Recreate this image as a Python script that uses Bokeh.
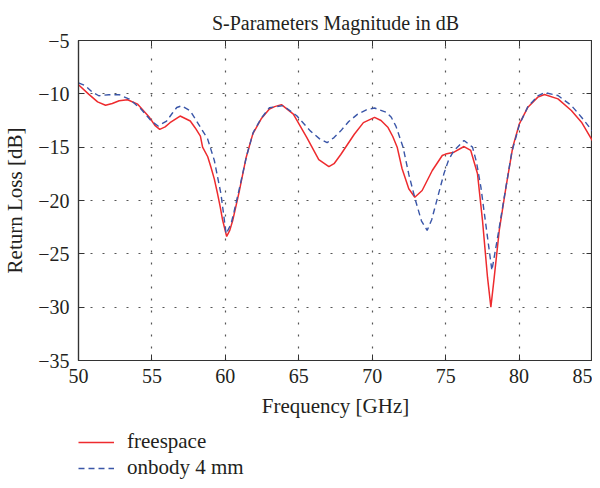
from bokeh.plotting import figure
from bokeh.layouts import column
from bokeh.models import Legend, LegendItem, LinearAxis, FixedTicker, Range1d
from bokeh.embed import file_html
from bokeh.resources import INLINE

# ---- data ----
freq_free = [50.0, 50.69, 51.3, 51.84, 52.3, 52.77, 53.34, 54.03, 54.84, 55.2, 55.53, 55.9, 56.23, 56.92,
             57.61, 57.95, 58.3, 58.45, 58.8, 59.02, 59.25, 59.47, 59.65, 59.82, 60.09, 60.3, 60.5, 60.96,
             61.42, 61.87, 62.44, 63.0, 63.36, 63.82, 64.63, 65.55, 66.36, 67.05, 67.4, 67.86, 68.78, 69.4,
             70.16, 70.6, 71.08, 71.4, 71.7, 72.03, 72.49, 72.9, 73.4, 74.09, 74.77, 75.0, 75.57, 76.25,
             76.71, 77.17, 77.51, 77.85, 78.08, 78.31, 78.65, 79.11, 79.57, 80.02, 80.6, 81.28, 81.73, 82.65,
             83.56, 84.25, 85.0]
s11_free = [-9.15, -10.03, -10.75, -11.07, -10.9, -10.65, -10.56, -10.97, -12.23, -12.95, -13.33, -13.1, -12.71, -12.08,
            -12.55, -13.2, -13.97, -15.0, -15.9, -16.88, -18.0, -19.37, -20.6, -21.88, -23.37, -22.8, -21.88, -19.06,
            -15.94, -13.75, -12.34, -11.42, -11.2, -11.01, -11.9, -14.1, -16.16, -16.82, -16.55, -15.69, -13.79, -12.7,
            -12.21, -12.5, -13.16, -14.0, -15.0, -17.0, -18.9, -19.69, -19.06, -17.19, -15.78, -15.65, -15.47, -14.94,
            -15.31, -17.5, -21.88, -27.19, -30.0, -27.19, -22.81, -18.75, -15.0, -12.81, -11.25, -10.31, -10.06, -10.47,
            -11.56, -12.66, -14.4]

freq_body = [50.0, 50.46, 50.9, 51.38, 52.07, 52.77, 53.46, 54.27, 54.96, 55.42, 56.0, 56.4, 56.69, 57.03,
             57.61, 58.18, 58.79, 59.25, 59.5, 59.7, 59.9, 60.05, 60.39, 60.6, 61.0, 61.45, 61.9, 62.44,
             63.0, 63.94, 64.86, 65.78, 66.4, 66.93, 67.4, 67.86, 68.4, 69.01, 69.6, 70.16, 70.97, 71.3,
             71.62, 72.1, 72.5, 72.95, 73.35, 73.74, 74.05, 74.32, 74.88, 75.2, 75.57, 76.25, 76.83, 77.1,
             77.4, 77.85, 78.15, 78.54, 78.99, 79.5, 80.02, 80.6, 81.28, 81.73, 82.65, 83.56, 84.25, 85.0]
s11_body = [-8.97, -9.24, -9.8, -10.18, -10.08, -10.08, -10.49, -11.44, -12.55, -13.02, -12.55, -11.8, -11.28, -11.12,
            -11.6, -12.86, -14.22, -16.25, -18.0, -19.37, -21.5, -23.12, -22.19, -21.0, -18.6, -15.8, -13.6, -12.3,
            -11.3, -11.11, -12.06, -13.47, -14.2, -14.58, -14.1, -13.47, -12.6, -11.9, -11.5, -11.33, -11.74, -12.2,
            -13.05, -15.0, -17.6, -20.0, -21.9, -22.8, -21.8, -20.4, -17.5, -16.2, -15.31, -14.38, -15.0, -16.4,
            -18.75, -23.44, -26.56, -23.44, -19.69, -15.5, -12.9, -11.2, -10.2, -9.88, -10.16, -11.09, -12.19, -13.5]

x_ticks = [50, 55, 60, 65, 70, 75, 80, 85]
y_ticks = [-35, -30, -25, -20, -15, -10, -5]

title_text = "S-Parameters Magnitude in dB"
x_label = "Frequency [GHz]"
y_label = "Return Loss [dB]"
labels = ["freespace", "onbody 4 mm"]

FONT = "Liberation Serif"
TXT = "#231f20"
RED = "#ee2b2e"
BLUE = "#3a56a8"

p = figure(width=592, height=422, output_backend="svg", toolbar_location=None,
           x_range=Range1d(50, 85), y_range=Range1d(-35, -5),
           min_border_left=72, min_border_right=0, min_border_top=40, min_border_bottom=62)

p.title.text = title_text
p.title.align = "center"
p.title.text_font = FONT
p.title.text_font_size = "20px"
p.title.text_font_style = "normal"
p.title.text_color = TXT
p.title.offset = 0
p.title.standoff = 14

p.outline_line_color = "#333333"
p.outline_line_width = 1.2
p.background_fill_color = "white"
p.border_fill_color = "white"

for ax in (p.xaxis[0], p.yaxis[0]):
    ax.major_label_text_font = FONT
    ax.major_label_text_font_size = "20px"
    ax.major_label_text_color = TXT
    ax.axis_label_text_font = FONT
    ax.axis_label_text_font_size = "21px"
    ax.axis_label_text_font_style = "normal"
    ax.axis_label_text_color = TXT
    ax.major_tick_in = 6
    ax.major_tick_out = 0
    ax.minor_tick_line_color = None
    ax.axis_line_color = "#333333"
    ax.axis_line_width = 1.2
    ax.major_tick_line_color = "#333333"

p.xaxis[0].ticker = FixedTicker(ticks=x_ticks)
p.yaxis[0].ticker = FixedTicker(ticks=y_ticks)
p.yaxis[0].major_label_overrides = {t: "\u2212" + str(abs(t)) for t in y_ticks}
p.xaxis[0].axis_label = x_label
p.yaxis[0].axis_label = y_label
p.xaxis[0].major_label_standoff = 8
p.yaxis[0].major_label_standoff = 9
p.xaxis[0].axis_label_standoff = 8
p.yaxis[0].axis_label_standoff = 8

right = LinearAxis(ticker=FixedTicker(ticks=y_ticks), major_label_text_font_size="0px",
                   major_tick_in=6, major_tick_out=0, minor_tick_line_color=None,
                   axis_line_color="#333333", major_tick_line_color="#333333", major_label_standoff=0)
top = LinearAxis(ticker=FixedTicker(ticks=x_ticks), major_label_text_font_size="0px",
                 major_tick_in=6, major_tick_out=0, minor_tick_line_color=None,
                 axis_line_color="#333333", major_tick_line_color="#333333", major_label_standoff=0)
p.add_layout(right, "right")
p.add_layout(top, "above")

p.xgrid.ticker = FixedTicker(ticks=x_ticks)
p.ygrid.ticker = FixedTicker(ticks=y_ticks)
for g in (p.xgrid[0], p.ygrid[0]):
    g.grid_line_color = "#555555"
    g.grid_line_dash = "2 10"
    g.grid_line_width = 1.2

p.line(freq_free, s11_free, line_color=RED, line_width=1.5)
p.line(freq_body, s11_body, line_color=BLUE, line_width=1.4, line_dash="6 4")

# ---- legend panel below the chart (its lines lie outside its own view, only the keys show) ----
leg = figure(width=592, height=58, output_backend="svg", toolbar_location=None,
             x_axis_type=None, y_axis_type=None, x_range=Range1d(0, 1), y_range=Range1d(0, 1),
             min_border_left=0, min_border_right=0, min_border_top=0, min_border_bottom=0)
leg.outline_line_color = None
leg.background_fill_color = "white"
leg.border_fill_color = "white"
k_free = leg.line(freq_free, s11_free, line_color=RED, line_width=1.5)
k_body = leg.line(freq_body, s11_body, line_color=BLUE, line_width=1.4, line_dash="6 4")
legend = Legend(items=[LegendItem(label=labels[0], renderers=[k_free]),
                       LegendItem(label=labels[1], renderers=[k_body])],
                location=(0, 0), orientation="vertical",
                label_text_font=FONT, label_text_font_size="21px", label_text_color=TXT,
                glyph_width=36, glyph_height=22, label_height=22, label_standoff=13, spacing=1,
                padding=0, margin=0, border_line_color=None, background_fill_alpha=0)
leg.add_layout(legend, "center")

layout = column(p, leg, spacing=0)
open("out.html", "w").write(file_html(layout, INLINE))
